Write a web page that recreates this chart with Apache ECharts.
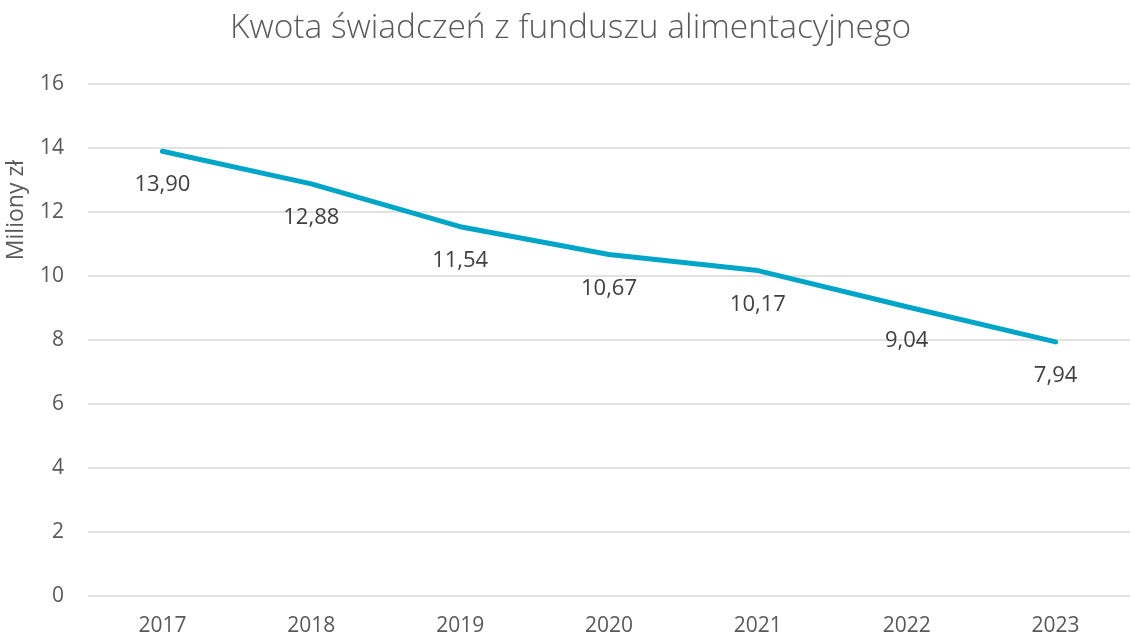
<!DOCTYPE html>
<html>
<head>
<meta charset="utf-8">
<script src="https://cdn.jsdelivr.net/npm/echarts@6/dist/echarts.min.js"></script>
<style>
  html, body { margin: 0; padding: 0; background: #fff; }
  #chart { width: 1141px; height: 637px; }
</style>
</head>
<body>
<div id="chart"></div>
<script>
// lata i kwoty (mln zł)
var years = ['2017', '2018', '2019', '2020', '2021', '2022', '2023'];
var amounts = [13.90, 12.88, 11.54, 10.67, 10.17, 9.04, 7.94];
var yTicks = { min: 0, max: 16, interval: 2 };

var chart = echarts.init(document.getElementById('chart'));
var font = '"Open Sans", sans-serif';

chart.setOption({
    backgroundColor: '#ffffff',
    title: {
        text: 'Kwota świadczeń z funduszu alimentacyjnego',
        left: 'center',
        top: 6,
        textStyle: {
            fontFamily: font,
            fontWeight: 300,
            fontSize: 33.5,
            color: '#595959'
        }
    },
    grid: {
        left: 88,
        right: 11,
        top: 84,
        bottom: 40
    },
    graphic: [{
        type: 'text',
        left: 5,
        top: 160,
        rotation: Math.PI / 2,
        style: {
            text: 'Miliony zł',
            font: '400 23px ' + font,
            fill: '#595959'
        }
    }],
    xAxis: {
        type: 'category',
        data: years,
        boundaryGap: true,
        axisLine: { show: false },
        axisTick: { show: false },
        axisLabel: {
            color: '#595959',
            fontFamily: font,
            fontSize: 21,
            margin: 20
        }
    },
    yAxis: {
        type: 'value',
        min: yTicks.min,
        max: yTicks.max,
        interval: yTicks.interval,
        axisLine: { show: false },
        axisTick: { show: false },
        axisLabel: {
            color: '#595959',
            fontFamily: font,
            fontSize: 21,
            margin: 24
        },
        splitLine: {
            lineStyle: { color: '#d9d9d9', width: 1.5 }
        }
    },
    series: [{
        type: 'line',
        data: amounts,
        symbol: 'circle',
        symbolSize: 4,
        showSymbol: true,
        itemStyle: { color: '#00a5c8' },
        lineStyle: { color: '#00a5c8', width: 5, cap: 'round' },
        label: {
            show: true,
            position: 'bottom',
            distance: 21,
            color: '#404040',
            fontFamily: font,
            fontSize: 22,
            formatter: function (p) {
                return p.value.toFixed(2).replace('.', ',');
            }
        }
    }]
});
</script>
</body>
</html>
